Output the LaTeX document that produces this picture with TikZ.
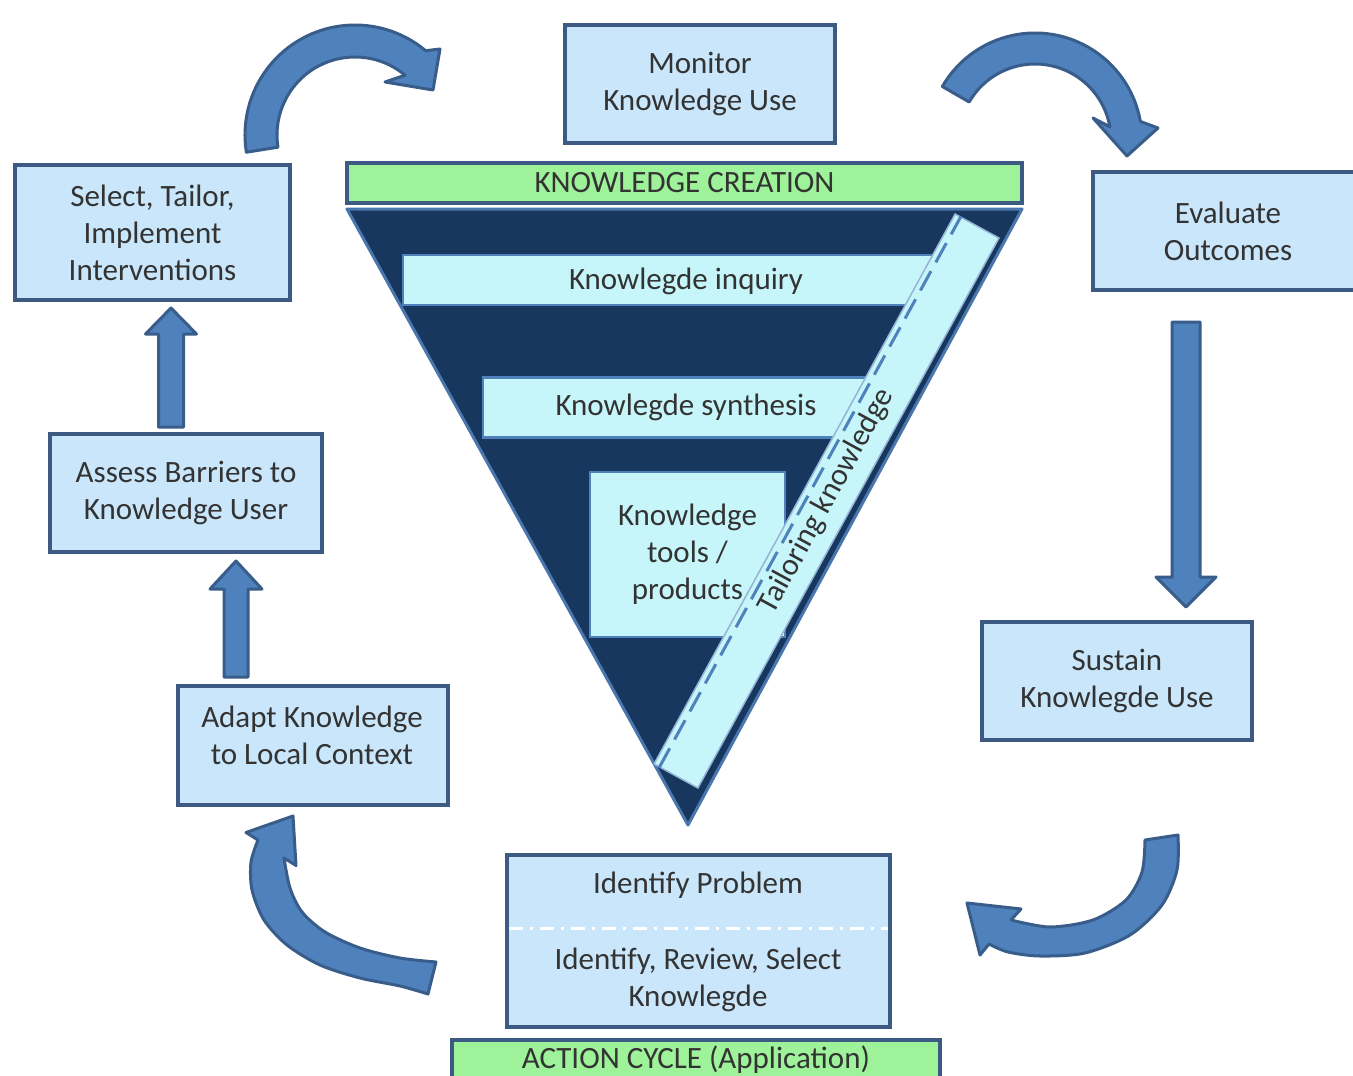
\documentclass[tikz,border=0pt]{standalone}
\usepackage{fontspec}
\setmainfont{Carlito}
\usetikzlibrary{calc}
\definecolor{boxfill}{HTML}{C9E6FA}
\definecolor{boxline}{HTML}{3C5A82}
\definecolor{greenfill}{HTML}{9DF29A}
\definecolor{navy}{HTML}{17375E}
\definecolor{tririm}{HTML}{4A76AE}
\definecolor{barfill}{HTML}{C6F6F9}
\definecolor{barline}{HTML}{4F81BD}
\definecolor{arrfill}{HTML}{4F81BD}
\definecolor{arrline}{HTML}{385D8A}
\definecolor{txt}{HTML}{333333}
\newcommand{\blockarr}[6]{\draw[blockarrow] (#1-#5,#2) -- (#1-#5,#3) -- (#1-#6,#3) -- (#1,#4) -- (#1+#6,#3) -- (#1+#5,#3) -- (#1+#5,#2) -- cycle;}
\begin{document}
\begin{tikzpicture}[x=1pt,y=1pt,
  txtfont/.style={font=\fontsize{31}{37}\selectfont, text=txt},
  box/.style={draw=boxline, line width=4.5, fill=boxfill, align=center, inner sep=0, txtfont},
  lbl/.style={align=center, inner sep=0, txtfont},
  greenbar/.style={draw=boxline, line width=4, fill=greenfill, inner sep=0, txtfont, text=black!80},
  bar/.style={draw=barline, line width=2.5, fill=barfill, align=center, inner sep=0, txtfont},
  stripbox/.style={draw=barline!60, line width=1.5, fill=barfill, inner sep=0, txtfont},
  tdash/.style={draw=barline, line width=3, dash pattern=on 22pt off 10pt},
  blockarrow/.style={fill=arrfill, draw=arrline, line width=3, line join=round}]
\fill[white] (0,0) rectangle (1353,-1076);
\useasboundingbox (0,0) rectangle (1353,-1076);

% triangle
\coordinate (tl) at (347,-209);
\coordinate (tr) at (1022,-209);
\coordinate (apex) at (688,-825);
\draw[fill=navy, draw=tririm, line width=3, line join=round] (tl) -- (tr) -- (apex) -- cycle;

\node[bar, minimum width=545, minimum height=50] (inquiry) at (675.5,-280) {};
\node[lbl] (inquirytxt) at (686,-281) {Knowlegde inquiry};
\node[bar, minimum width=390, minimum height=60] (synth) at (678,-407.5) {};
\node[lbl] (synthtxt) at (686,-407) {Knowlegde synthesis};
\node[bar, minimum width=195, minimum height=165] (tools) at (687.5,-554.5) {Knowledge\\tools /\\products};

\node[stripbox, rotate=61.3, minimum width=627, minimum height=50] (tailor) at (826.5,-501) {Tailoring knowledge};
\draw[tdash] ($(tailor.north west)!7pt!(tailor.south west)$) -- ($(tailor.north east)!7pt!(tailor.south east)$);

\node[greenbar, minimum width=675, minimum height=40] (kc) at (684.5,-183) {KNOWLEDGE CREATION};
\node[greenbar, minimum width=488, minimum height=40] (ac) at (696,-1060) {ACTION CYCLE (Application)};

% boxes
\node[box, minimum width=270, minimum height=118] (monitor) at (700,-84) {Monitor\\Knowledge Use};
\node[box, minimum width=275, minimum height=135] (select) at (152.5,-232.5) {Select, Tailor,\\Implement\\Interventions};
\node[box, minimum width=272, minimum height=118] (assess) at (186,-493) {Assess Barriers to\\Knowledge User};
\node[box, minimum width=270, minimum height=119] (adapt) at (313,-745.5) {};
\node[lbl] (adapttxt) at (312,-735.5) {Adapt Knowledge\\to Local Context};
\node[box, minimum width=270, minimum height=118] (evaluate) at (1228,-231) {Evaluate\\Outcomes};
\node[box, minimum width=270, minimum height=118] (sustain) at (1117,-681) {Sustain\\Knowlegde Use};
\node[box, minimum width=383, minimum height=172] (identify) at (698.5,-941) {};
\node[lbl] (idprob) at (698,-885) {Identify Problem};
\node[lbl] (idsel) at (698,-979.5) {Identify, Review, Select\\Knowlegde};
\draw[white, line width=3, dash pattern=on 14pt off 7pt on 3pt off 7pt] ($(identify.west)+(4,13)$) -- ($(identify.east)+(-4,13)$);

% straight block arrows
\blockarr{171}{-427}{-334}{-308}{12.5}{25.5}
\blockarr{236}{-677}{-589}{-561}{12}{26}
\blockarr{1186}{-322}{-577}{-607}{14}{30}

% curved block arrows
\draw[blockarrow] (355,-135) ++(189:110) arc[start angle=189, end angle=50, radius=110]
  -- (440,-49) -- (433,-90) -- (385,-82) -- ($(355,-135)+(50:78)$)
  arc[start angle=50, end angle=189, radius=78] -- cycle;
\draw[blockarrow] (1035,-140) ++(150:107) arc[start angle=150, end angle=10, radius=107]
  -- (1158,-128) -- (1127,-156) -- (1093,-118) -- ($(1035,-140)+(10:76)$)
  arc[start angle=10, end angle=150, radius=76] -- cycle;
\draw[blockarrow] plot[smooth] coordinates {(1178,-835) (1177,-870) (1162,-905) (1130,-935) (1085,-953) (1040,-956) (1008,-952) (989,-944)}
  -- (980,-955) -- (967,-903) -- (1021,-909) --
  plot[smooth] coordinates {(1011,-920) (1050,-927) (1093,-920) (1126,-900) (1142,-872) (1145,-840)} -- cycle;
\draw[blockarrow] plot[smooth] coordinates {(258,-840) (251,-862) (252,-890) (264,-920) (287,-945) (320,-965) (360,-978) (400,-986) (428,-994)}
  -- plot[smooth] coordinates {(436,-962) (400,-958) (360,-948) (325,-932) (302,-912) (290,-888) (284,-858)}
  -- (296,-865.5) -- (293,-816) -- (246,-832.5) -- cycle;
\end{tikzpicture}
\end{document}
